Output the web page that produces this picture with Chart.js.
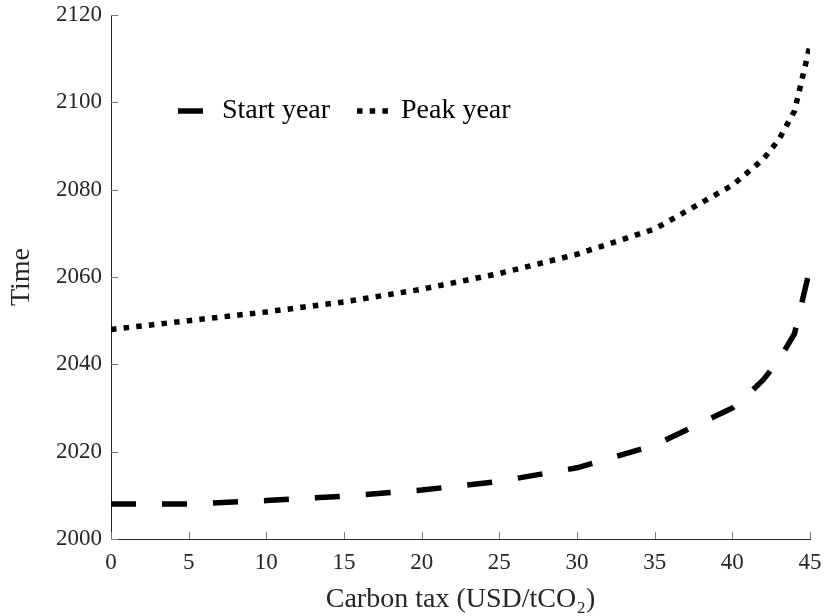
<!DOCTYPE html>
<html>
<head>
<meta charset="utf-8">
<script src="https://cdn.jsdelivr.net/npm/chart.js@4.4.1/dist/chart.umd.min.js"></script>
<style>
  html, body { margin: 0; padding: 0; background: #ffffff; }
  #wrap { width: 824px; height: 616px; position: relative; }
</style>
</head>
<body>
<div id="wrap"><canvas id="c" width="824" height="616"></canvas></div>
<script>
// Carbon tax levels (USD/tCO2)
const startTax = [0, 5, 10, 15, 20, 25, 30, 35, 40, 41, 42, 43, 44, 45];
const startYear = [2008, 2008, 2008.8, 2009.8, 2011.2, 2013.2, 2016.3, 2021.5, 2030, 2033, 2036.5, 2041, 2047, 2062];
const peakTax = [0, 5, 10, 15, 20, 25, 30, 35, 40, 41, 42, 43, 44, 45];
const peakYear = [2048, 2050, 2052, 2054.3, 2057.2, 2060.8, 2065.2, 2071, 2081, 2084, 2087, 2091.5, 2098, 2113];
const xTicks = [0, 5, 10, 15, 20, 25, 30, 35, 40, 45];
const yTicks = [2000, 2020, 2040, 2060, 2080, 2100, 2120];
const seriesNames = ['Start year', 'Peak year'];

const FONT = "'Liberation Serif', 'Times New Roman', serif";
const TXT = '#262626';

function pts(xs, ys) { return xs.map((x, i) => ({ x: x, y: ys[i] })); }

// inward tick marks drawn from the library's scales
const inwardTicks = {
  id: 'inwardTicks',
  afterDraw(chart) {
    const ctx = chart.ctx;
    const xs = chart.scales.x, ys = chart.scales.y;
    const L = 7;
    ctx.save();
    ctx.strokeStyle = '#7a7a7a';
    ctx.lineWidth = 1;
    ctx.beginPath();
    xTicks.forEach(v => {
      const px = Math.round(xs.getPixelForValue(v)) + 0.5;
      ctx.moveTo(px, ys.bottom);
      ctx.lineTo(px, ys.bottom - L);
    });
    yTicks.forEach(v => {
      const py = Math.round(ys.getPixelForValue(v)) + 0.5;
      ctx.moveTo(xs.left, py);
      ctx.lineTo(xs.left + L, py);
    });
    ctx.stroke();
    ctx.restore();
  }
};

// legend drawn inside the plot area
const innerLegend = {
  id: 'innerLegend',
  afterDraw(chart) {
    const ctx = chart.ctx;
    const a = chart.chartArea;
    const cy = a.top + 96;
    ctx.save();
    ctx.font = '28px ' + FONT;
    ctx.fillStyle = '#000';
    ctx.textBaseline = 'alphabetic';
    const items = [
      { ds: chart.data.datasets[0], sx: a.left + 67, sw: 26, tx: a.left + 111 },
      { ds: chart.data.datasets[1], sx: a.left + 246, sw: 33, tx: a.left + 290 }
    ];
    items.forEach(it => {
      ctx.beginPath();
      ctx.strokeStyle = it.ds.borderColor;
      ctx.lineWidth = it.ds.borderWidth;
      ctx.lineCap = 'butt';
      ctx.setLineDash(it.ds.borderDash);
      ctx.moveTo(it.sx, cy);
      ctx.lineTo(it.sx + it.sw, cy);
      ctx.stroke();
      ctx.setLineDash([]);
      ctx.fillText(it.ds.label, it.tx, cy + 7);
    });
    ctx.restore();
  }
};

new Chart(document.getElementById('c'), {
  type: 'line',
  data: {
    datasets: [
      {
        label: seriesNames[0],
        data: pts(startTax, startYear),
        borderColor: '#000000',
        borderWidth: 5.5,
        borderDash: [25, 26],
        borderCapStyle: 'butt',
        borderJoinStyle: 'round',
        pointRadius: 0,
        tension: 0,
        fill: false
      },
      {
        label: seriesNames[1],
        data: pts(peakTax, peakYear),
        borderColor: '#000000',
        borderWidth: 5.5,
        borderDash: [5.5, 7.2],
        borderCapStyle: 'butt',
        borderJoinStyle: 'round',
        pointRadius: 0,
        tension: 0,
        fill: false
      }
    ]
  },
  options: {
    responsive: false,
    animation: false,
    devicePixelRatio: 1,
    layout: { autoPadding: false, padding: { left: 0, top: 15, right: 14, bottom: 0 } },
    plugins: {
      legend: { display: false },
      tooltip: { enabled: false },
      title: { display: false }
    },
    scales: {
      x: {
        type: 'linear',
        min: 0, max: 45,
        afterBuildTicks(s) { s.ticks = xTicks.map(v => ({ value: v })); },
        afterFit(s) { s.height = 77; s.paddingLeft = 0; s.paddingRight = 0; s.paddingTop = 0; s.paddingBottom = 0; },
        grid: { display: false, drawTicks: false },
        border: { display: true, color: TXT, width: 1 },
        ticks: { color: TXT, font: { family: FONT, size: 23 }, padding: 10, maxRotation: 0, autoSkip: false, callback: v => String(v) },
        title: { display: true, text: 'Carbon tax (USD/tCO₂)', color: TXT, font: { family: FONT, size: 28 }, padding: { top: 0, bottom: 0 } }
      },
      y: {
        type: 'linear',
        min: 2000, max: 2120,
        afterBuildTicks(s) { s.ticks = yTicks.map(v => ({ value: v })); },
        afterFit(s) { s.width = 111; s.paddingLeft = 0; s.paddingRight = 0; s.paddingTop = 0; s.paddingBottom = 0; },
        grid: { display: false, drawTicks: false },
        border: { display: true, color: TXT, width: 1 },
        ticks: { color: TXT, font: { family: FONT, size: 23 }, padding: 9, autoSkip: false, callback: v => String(v) },
        title: { display: true, text: 'Time', color: TXT, font: { family: FONT, size: 28 }, padding: { top: 5, bottom: 0 } }
      }
    }
  },
  plugins: [inwardTicks, innerLegend]
});
</script>
</body>
</html>
